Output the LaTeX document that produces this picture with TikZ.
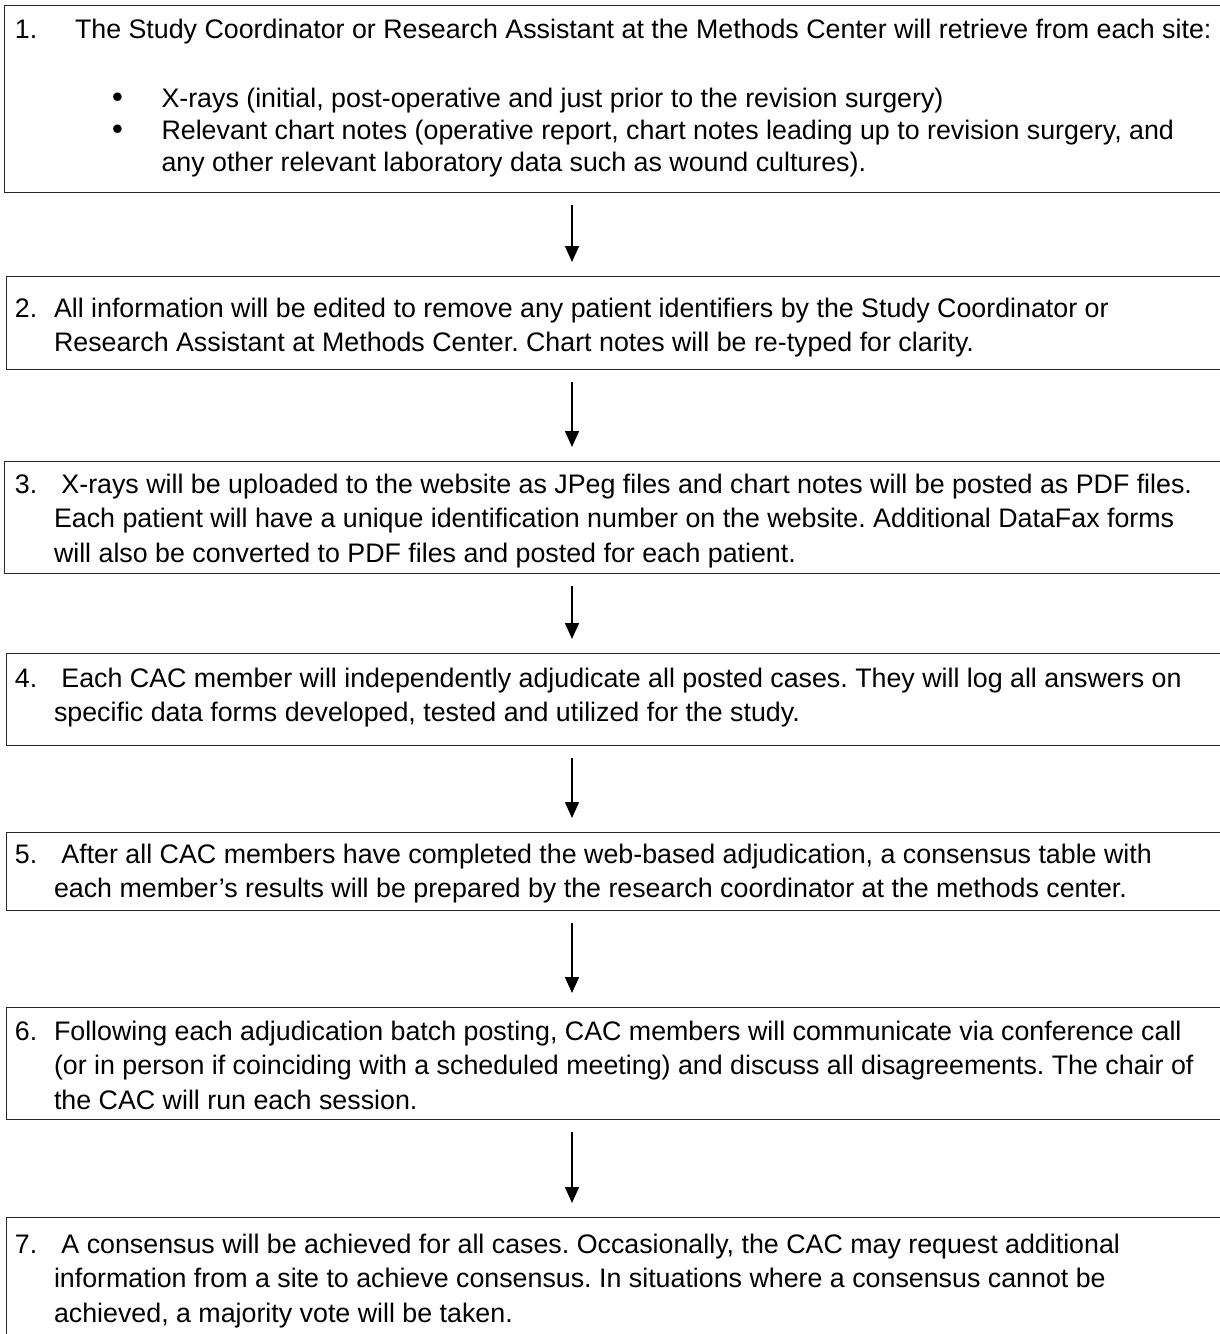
\documentclass[tikz,border=0pt]{standalone}
\usepackage{fontspec}
\setmainfont{Liberation Sans}
\usetikzlibrary{arrows.meta}
\newcommand{\firstln}{\rule{0pt}{22pt}}
\newcommand{\lead}{\hspace*{0.278em}}
\begin{document}
\begin{tikzpicture}[x=1pt,y=-1pt,
  box/.style={draw=black!85, line width=1pt, inner sep=0pt, outer sep=0pt, anchor=north west, rectangle, minimum width=1230pt},
  txt/.style={inner sep=0pt, outer sep=0pt, anchor=north west, align=left, font=\fontsize{26.8}{34.8}\selectfont\frenchspacing},
  btxt/.style={txt, font=\fontsize{26.8}{32}\selectfont\frenchspacing},
  bul/.style={txt, font=\fontsize{31}{32}\selectfont},
  flow/.style={line width=1.5pt, -{Triangle[length=16pt,width=14pt]}, shorten <=13pt, shorten >=14pt}]
\useasboundingbox (0,0) rectangle (1220,1334);
\clip (0,0) rectangle (1220,1334);
% boxes
\node[box, minimum height=187pt] (b1) at (4,5) {};
\node[box, minimum height=93pt]  (b2) at (6,276) {};
\node[box, minimum height=112pt] (b3) at (4,461) {};
\node[box, minimum height=92pt]  (b4) at (6,653) {};
\node[box, minimum height=78pt]  (b5) at (6,832) {};
\node[box, minimum height=112pt] (b6) at (6,1007) {};
\node[box, minimum height=200pt] (b7) at (6,1217) {};
% arrows
\coordinate (ax) at (572,0);
\draw[flow] (b1.south -| ax) -- (b2.north -| ax);
\draw[flow] (b2.south -| ax) -- (b3.north -| ax);
\draw[flow] (b3.south -| ax) -- (b4.north -| ax);
\draw[flow] (b4.south -| ax) -- (b5.north -| ax);
\draw[flow] (b5.south -| ax) -- (b6.north -| ax);
\draw[flow] (b6.south -| ax) -- (b7.north -| ax);
% box 1
\node[txt] (n1) at (15,16) {\firstln 1.};
\node[txt] (t1) at (75,16) {\firstln The Study Coordinator or Research Assistant at the Methods Center will retrieve from each site:};
\node[bul] (bu1) at (112,85) {\firstln •\\•};
\node[btxt] (t1b) at (161.5,85) {\firstln X-rays (initial, post-operative and just prior to the revision surgery)\\
Relevant chart notes (operative report, chart notes leading up to revision surgery, and\\
any other relevant laboratory data such as wound cultures).};
% box 2
\node[txt] (n2) at (15,295) {\firstln 2.};
\node[txt] (t2) at (54,295) {\firstln All information will be edited to remove any patient identifiers by the Study Coordinator or\\
Research Assistant at Methods Center. Chart notes will be re-typed for clarity.};
% box 3
\node[txt] (n3) at (15,471) {\firstln 3.};
\node[txt] (t3) at (54,471) {\firstln\lead X-rays will be uploaded to the website as JPeg files and chart notes will be posted as PDF files.\\
Each patient will have a unique identification number on the website. Additional DataFax forms\\
will also be converted to PDF files and posted for each patient.};
% box 4
\node[txt] (n4) at (15,665) {\firstln 4.};
\node[txt] (t4) at (54,665) {\firstln\lead Each CAC member will independently adjudicate all posted cases. They will log all answers on\\
specific data forms developed, tested and utilized for the study.};
% box 5
\node[txt] (n5) at (15,841) {\firstln 5.};
\node[txt] (t5) at (54,841) {\firstln\lead After all CAC members have completed the web-based adjudication, a consensus table with\\
each member’s results will be prepared by the research coordinator at the methods center.};
% box 6
\node[txt] (n6) at (15,1018) {\firstln 6.};
\node[txt] (t6) at (54,1018) {\firstln Following each adjudication batch posting, CAC members will communicate via conference call\\
(or in person if coinciding with a scheduled meeting) and discuss all disagreements. The chair of\\
the CAC will run each session.};
% box 7
\node[txt] (n7) at (15,1231) {\firstln 7.};
\node[txt] (t7) at (54,1231) {\firstln\lead A consensus will be achieved for all cases. Occasionally, the CAC may request additional\\
information from a site to achieve consensus. In situations where a consensus cannot be\\
achieved, a majority vote will be taken.};
\end{tikzpicture}
\end{document}
